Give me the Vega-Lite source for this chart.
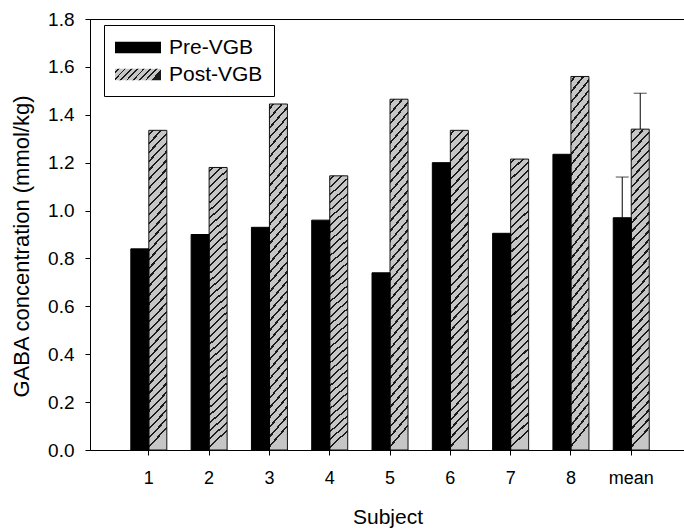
{
  "$schema": "https://vega.github.io/schema/vega-lite/v6.json",
  "autosize": {"type": "none"},
  "width": 595,
  "height": 431,
  "padding": {"left": 90, "top": 19, "right": 0, "bottom": 82},
  "background": "white",
  "config": {
    "font": "Liberation Sans",
    "view": {"stroke": "black", "strokeWidth": 1},
    "axis": {"grid": false, "domainColor": "black", "tickColor": "black", "labelColor": "black", "titleColor": "black", "labelFont": "Liberation Sans", "titleFont": "Liberation Sans", "titleFontWeight": "normal"}
  },
  "data": {
    "values": [
      {"subject": "1", "group": "Pre-VGB", "value": 0.84},
      {"subject": "2", "group": "Pre-VGB", "value": 0.90},
      {"subject": "3", "group": "Pre-VGB", "value": 0.93},
      {"subject": "4", "group": "Pre-VGB", "value": 0.96},
      {"subject": "5", "group": "Pre-VGB", "value": 0.74},
      {"subject": "6", "group": "Pre-VGB", "value": 1.20},
      {"subject": "7", "group": "Pre-VGB", "value": 0.905},
      {"subject": "8", "group": "Pre-VGB", "value": 1.235},
      {"subject": "mean", "group": "Pre-VGB", "value": 0.97, "hi": 1.14},
      {"subject": "1", "group": "Post-VGB", "value": 1.335},
      {"subject": "2", "group": "Post-VGB", "value": 1.18},
      {"subject": "3", "group": "Post-VGB", "value": 1.445},
      {"subject": "4", "group": "Post-VGB", "value": 1.145},
      {"subject": "5", "group": "Post-VGB", "value": 1.465},
      {"subject": "6", "group": "Post-VGB", "value": 1.335},
      {"subject": "7", "group": "Post-VGB", "value": 1.215},
      {"subject": "8", "group": "Post-VGB", "value": 1.56},
      {"subject": "mean", "group": "Post-VGB", "value": 1.34, "hi": 1.49}
    ]
  },
  "encoding": {
    "x": {
      "field": "subject", "type": "nominal", "sort": ["1","2","3","4","5","6","7","8","mean"],
      "scale": {"paddingInner": 0.403, "paddingOuter": 0.635, "align": 0.533},
      "axis": {"title": "Subject", "labelAngle": 0, "labelFontSize": 18, "titleFontSize": 21, "tickSize": 5, "labelPadding": 14, "titlePadding": 19, "domainWidth": 1}
    },
    "xOffset": {"field": "group", "type": "nominal", "scale": {"domain": ["Pre-VGB", "Post-VGB"], "paddingInner": 0, "paddingOuter": 0}},
    "y": {
      "field": "value", "type": "quantitative",
      "scale": {"domain": [0, 1.8], "nice": false, "zero": true},
      "axis": {"title": "GABA concentration (mmol/kg)", "values": [0, 0.2, 0.4, 0.6, 0.8, 1.0, 1.2, 1.4, 1.6, 1.8], "format": ".1f", "labelFontSize": 19, "titleFontSize": 22, "tickSize": 5, "labelPadding": 11, "titlePadding": 14, "titleY": 227}
    }
  },
  "layer": [
    {
      "transform": [{"filter": "datum.group === 'Post-VGB'"}],
      "mark": {
        "type": "bar", "stroke": "#111111", "strokeWidth": 1,
        "fill": {
          "gradient": "linear", "x1": 0, "y1": 0, "x2": 0.06, "y2": 1,
          "stops": [
            {"offset": 0.010, "color": "#c6c6c6"}, {"offset": 0.010, "color": "#1a1a1a"}, {"offset": 0.017, "color": "#1a1a1a"}, {"offset": 0.017, "color": "#c6c6c6"},
            {"offset": 0.0378, "color": "#c6c6c6"}, {"offset": 0.0378, "color": "#1a1a1a"}, {"offset": 0.0448, "color": "#1a1a1a"}, {"offset": 0.0448, "color": "#c6c6c6"},
            {"offset": 0.0656, "color": "#c6c6c6"}, {"offset": 0.0656, "color": "#1a1a1a"}, {"offset": 0.0726, "color": "#1a1a1a"}, {"offset": 0.0726, "color": "#c6c6c6"},
            {"offset": 0.0934, "color": "#c6c6c6"}, {"offset": 0.0934, "color": "#1a1a1a"}, {"offset": 0.1004, "color": "#1a1a1a"}, {"offset": 0.1004, "color": "#c6c6c6"},
            {"offset": 0.1212, "color": "#c6c6c6"}, {"offset": 0.1212, "color": "#1a1a1a"}, {"offset": 0.1282, "color": "#1a1a1a"}, {"offset": 0.1282, "color": "#c6c6c6"},
            {"offset": 0.149, "color": "#c6c6c6"}, {"offset": 0.149, "color": "#1a1a1a"}, {"offset": 0.156, "color": "#1a1a1a"}, {"offset": 0.156, "color": "#c6c6c6"},
            {"offset": 0.1768, "color": "#c6c6c6"}, {"offset": 0.1768, "color": "#1a1a1a"}, {"offset": 0.1838, "color": "#1a1a1a"}, {"offset": 0.1838, "color": "#c6c6c6"},
            {"offset": 0.2046, "color": "#c6c6c6"}, {"offset": 0.2046, "color": "#1a1a1a"}, {"offset": 0.2116, "color": "#1a1a1a"}, {"offset": 0.2116, "color": "#c6c6c6"},
            {"offset": 0.2324, "color": "#c6c6c6"}, {"offset": 0.2324, "color": "#1a1a1a"}, {"offset": 0.2394, "color": "#1a1a1a"}, {"offset": 0.2394, "color": "#c6c6c6"},
            {"offset": 0.2602, "color": "#c6c6c6"}, {"offset": 0.2602, "color": "#1a1a1a"}, {"offset": 0.2672, "color": "#1a1a1a"}, {"offset": 0.2672, "color": "#c6c6c6"},
            {"offset": 0.288, "color": "#c6c6c6"}, {"offset": 0.288, "color": "#1a1a1a"}, {"offset": 0.295, "color": "#1a1a1a"}, {"offset": 0.295, "color": "#c6c6c6"},
            {"offset": 0.3158, "color": "#c6c6c6"}, {"offset": 0.3158, "color": "#1a1a1a"}, {"offset": 0.3228, "color": "#1a1a1a"}, {"offset": 0.3228, "color": "#c6c6c6"},
            {"offset": 0.3436, "color": "#c6c6c6"}, {"offset": 0.3436, "color": "#1a1a1a"}, {"offset": 0.3506, "color": "#1a1a1a"}, {"offset": 0.3506, "color": "#c6c6c6"},
            {"offset": 0.3714, "color": "#c6c6c6"}, {"offset": 0.3714, "color": "#1a1a1a"}, {"offset": 0.3784, "color": "#1a1a1a"}, {"offset": 0.3784, "color": "#c6c6c6"},
            {"offset": 0.3992, "color": "#c6c6c6"}, {"offset": 0.3992, "color": "#1a1a1a"}, {"offset": 0.4062, "color": "#1a1a1a"}, {"offset": 0.4062, "color": "#c6c6c6"},
            {"offset": 0.427, "color": "#c6c6c6"}, {"offset": 0.427, "color": "#1a1a1a"}, {"offset": 0.434, "color": "#1a1a1a"}, {"offset": 0.434, "color": "#c6c6c6"},
            {"offset": 0.4548, "color": "#c6c6c6"}, {"offset": 0.4548, "color": "#1a1a1a"}, {"offset": 0.4618, "color": "#1a1a1a"}, {"offset": 0.4618, "color": "#c6c6c6"},
            {"offset": 0.4826, "color": "#c6c6c6"}, {"offset": 0.4826, "color": "#1a1a1a"}, {"offset": 0.4896, "color": "#1a1a1a"}, {"offset": 0.4896, "color": "#c6c6c6"},
            {"offset": 0.5104, "color": "#c6c6c6"}, {"offset": 0.5104, "color": "#1a1a1a"}, {"offset": 0.5174, "color": "#1a1a1a"}, {"offset": 0.5174, "color": "#c6c6c6"},
            {"offset": 0.5382, "color": "#c6c6c6"}, {"offset": 0.5382, "color": "#1a1a1a"}, {"offset": 0.5452, "color": "#1a1a1a"}, {"offset": 0.5452, "color": "#c6c6c6"},
            {"offset": 0.566, "color": "#c6c6c6"}, {"offset": 0.566, "color": "#1a1a1a"}, {"offset": 0.573, "color": "#1a1a1a"}, {"offset": 0.573, "color": "#c6c6c6"},
            {"offset": 0.5938, "color": "#c6c6c6"}, {"offset": 0.5938, "color": "#1a1a1a"}, {"offset": 0.6008, "color": "#1a1a1a"}, {"offset": 0.6008, "color": "#c6c6c6"},
            {"offset": 0.6216, "color": "#c6c6c6"}, {"offset": 0.6216, "color": "#1a1a1a"}, {"offset": 0.6286, "color": "#1a1a1a"}, {"offset": 0.6286, "color": "#c6c6c6"},
            {"offset": 0.6494, "color": "#c6c6c6"}, {"offset": 0.6494, "color": "#1a1a1a"}, {"offset": 0.6564, "color": "#1a1a1a"}, {"offset": 0.6564, "color": "#c6c6c6"},
            {"offset": 0.6772, "color": "#c6c6c6"}, {"offset": 0.6772, "color": "#1a1a1a"}, {"offset": 0.6842, "color": "#1a1a1a"}, {"offset": 0.6842, "color": "#c6c6c6"},
            {"offset": 0.705, "color": "#c6c6c6"}, {"offset": 0.705, "color": "#1a1a1a"}, {"offset": 0.712, "color": "#1a1a1a"}, {"offset": 0.712, "color": "#c6c6c6"},
            {"offset": 0.7328, "color": "#c6c6c6"}, {"offset": 0.7328, "color": "#1a1a1a"}, {"offset": 0.7398, "color": "#1a1a1a"}, {"offset": 0.7398, "color": "#c6c6c6"},
            {"offset": 0.7606, "color": "#c6c6c6"}, {"offset": 0.7606, "color": "#1a1a1a"}, {"offset": 0.7676, "color": "#1a1a1a"}, {"offset": 0.7676, "color": "#c6c6c6"},
            {"offset": 0.7884, "color": "#c6c6c6"}, {"offset": 0.7884, "color": "#1a1a1a"}, {"offset": 0.7954, "color": "#1a1a1a"}, {"offset": 0.7954, "color": "#c6c6c6"},
            {"offset": 0.8162, "color": "#c6c6c6"}, {"offset": 0.8162, "color": "#1a1a1a"}, {"offset": 0.8232, "color": "#1a1a1a"}, {"offset": 0.8232, "color": "#c6c6c6"},
            {"offset": 0.844, "color": "#c6c6c6"}, {"offset": 0.844, "color": "#1a1a1a"}, {"offset": 0.851, "color": "#1a1a1a"}, {"offset": 0.851, "color": "#c6c6c6"},
            {"offset": 0.8718, "color": "#c6c6c6"}, {"offset": 0.8718, "color": "#1a1a1a"}, {"offset": 0.8788, "color": "#1a1a1a"}, {"offset": 0.8788, "color": "#c6c6c6"},
            {"offset": 0.8996, "color": "#c6c6c6"}, {"offset": 0.8996, "color": "#1a1a1a"}, {"offset": 0.9066, "color": "#1a1a1a"}, {"offset": 0.9066, "color": "#c6c6c6"},
            {"offset": 0.9274, "color": "#c6c6c6"}, {"offset": 0.9274, "color": "#1a1a1a"}, {"offset": 0.9344, "color": "#1a1a1a"}, {"offset": 0.9344, "color": "#c6c6c6"},
            {"offset": 0.9552, "color": "#c6c6c6"}, {"offset": 0.9552, "color": "#1a1a1a"}, {"offset": 0.9622, "color": "#1a1a1a"}, {"offset": 0.9622, "color": "#c6c6c6"},
            {"offset": 0.983, "color": "#c6c6c6"}, {"offset": 0.983, "color": "#1a1a1a"}, {"offset": 0.99, "color": "#1a1a1a"}, {"offset": 0.99, "color": "#c6c6c6"}
          ]
        }
      }
    },
    {
      "transform": [{"filter": "datum.group === 'Pre-VGB'"}],
      "mark": {"type": "bar", "stroke": "black", "strokeWidth": 1},
      "encoding": {
        "fill": {
          "field": "group", "type": "nominal",
          "scale": {
            "domain": ["Pre-VGB", "Post-VGB"],
            "range": [
              "#000000",
              {"expr": "{gradient: 'linear', x1: 0, y1: 0, x2: 1, y2: 0.24, stops: [{offset: 0.06, color: '#c6c6c6'}, {offset: 0.06, color: '#1a1a1a'}, {offset: 0.095, color: '#1a1a1a'}, {offset: 0.095, color: '#c6c6c6'}, {offset: 0.19, color: '#c6c6c6'}, {offset: 0.19, color: '#1a1a1a'}, {offset: 0.225, color: '#1a1a1a'}, {offset: 0.225, color: '#c6c6c6'}, {offset: 0.32, color: '#c6c6c6'}, {offset: 0.32, color: '#1a1a1a'}, {offset: 0.355, color: '#1a1a1a'}, {offset: 0.355, color: '#c6c6c6'}, {offset: 0.45, color: '#c6c6c6'}, {offset: 0.45, color: '#1a1a1a'}, {offset: 0.485, color: '#1a1a1a'}, {offset: 0.485, color: '#c6c6c6'}, {offset: 0.58, color: '#c6c6c6'}, {offset: 0.58, color: '#1a1a1a'}, {offset: 0.615, color: '#1a1a1a'}, {offset: 0.615, color: '#c6c6c6'}, {offset: 0.71, color: '#c6c6c6'}, {offset: 0.71, color: '#1a1a1a'}, {offset: 0.745, color: '#1a1a1a'}, {offset: 0.745, color: '#c6c6c6'}, {offset: 0.84, color: '#c6c6c6'}, {offset: 0.84, color: '#1a1a1a'}, {offset: 0.875, color: '#1a1a1a'}, {offset: 0.875, color: '#c6c6c6'}, {offset: 0.965, color: '#c6c6c6'}, {offset: 0.965, color: '#1a1a1a'}, {offset: 1.0, color: '#1a1a1a'}]}"}
            ]
          },
          "legend": {
            "title": null, "orient": "none", "legendX": 14, "legendY": 6, "direction": "vertical",
            "strokeColor": "black", "fillColor": "white", "padding": 11,
            "symbolType": "M-2,-0.5H2V0.5H-2Z", "symbolSize": 529, "symbolStrokeWidth": 0, "symbolOpacity": 1, "symbolOffset": 11.5,
            "labelFontSize": 21, "labelFont": "Liberation Sans", "labelColor": "black", "labelOffset": 19.5, "rowPadding": 5
          }
        }
      }
    },
    {
      "transform": [{"filter": "isValid(datum.hi)"}],
      "mark": {"type": "rule", "color": "black", "strokeWidth": 1},
      "encoding": {"y2": {"field": "hi"}}
    },
    {
      "transform": [{"filter": "isValid(datum.hi)"}],
      "mark": {"type": "tick", "orient": "horizontal", "color": "black", "size": 13, "thickness": 1},
      "encoding": {"y": {"field": "hi", "type": "quantitative"}}
    }
  ]
}
